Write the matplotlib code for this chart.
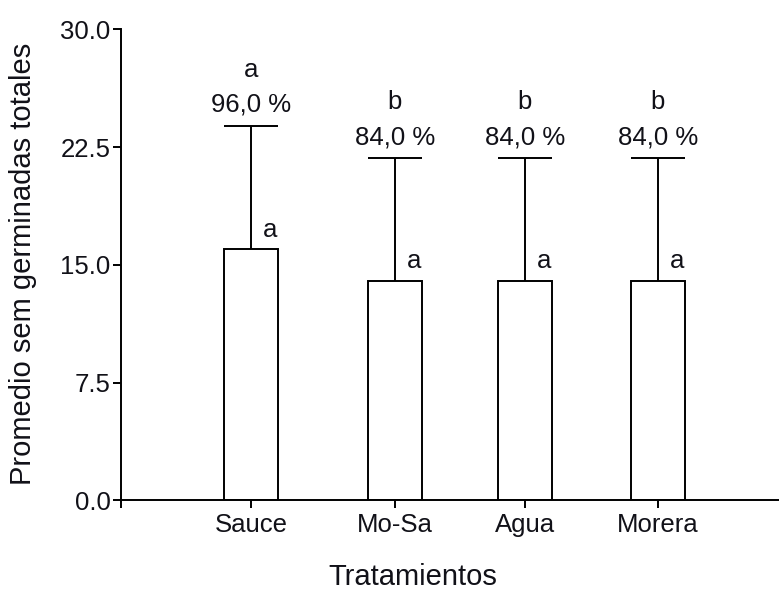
import matplotlib
matplotlib.use("Agg")
import matplotlib.pyplot as plt

plt.rcParams['font.family'] = ['Liberation Sans', 'DejaVu Sans']

# Treatment data
tratamientos = ["Sauce", "Mo-Sa", "Agua", "Morera"]
posiciones = [0.988, 2.08, 3.07, 4.08]
promedios = [16.0, 14.0, 14.0, 14.0]
desvios = [7.85, 7.8, 7.8, 7.8]
porcentajes = ["96,0 %", "84,0 %", "84,0 %", "84,0 %"]
letras_germ = ["a", "b", "b", "b"]
letras_prom = ["a", "a", "a", "a"]
yticks = [0.0, 7.5, 15.0, 22.5, 30.0]

txt = "#111118"
fig = plt.figure(figsize=(7.79, 5.91), dpi=100)
ax = fig.add_axes([121 / 779, 90.7 / 591, 1 - 121 / 779, (500.3 - 29.3) / 591])

lw = 1.4
ax.bar(posiciones, promedios, width=0.41, color="white", edgecolor="black",
       linewidth=lw, zorder=2)
_, caps, _ = ax.errorbar(posiciones, promedios, yerr=[[0] * 4, desvios],
                         fmt="none", ecolor="black", elinewidth=lw,
                         capsize=19.4, capthick=lw, zorder=1)
caps[0].set_visible(False)  # only the upper cap is drawn

fs = 18.5
for x, m, d, p, lg, lp in zip(posiciones, promedios, desvios, porcentajes,
                              letras_germ, letras_prom):
    top = m + d
    ax.annotate(p, (x, top), xytext=(0, 10), textcoords="offset points",
                ha="center", va="baseline", fontsize=fs, color=txt)
    ax.annotate(lg, (x, top), xytext=(0, 35), textcoords="offset points",
                ha="center", va="baseline", fontsize=fs, color=txt)
    ax.annotate(lp, (x, m), xytext=(13.7, 9), textcoords="offset points",
                ha="center", va="baseline", fontsize=fs, color=txt)

ax.set_xlim(0, 5)
ax.set_ylim(0, 30)
ax.set_yticks(yticks)
ax.set_yticklabels([f"{v:.1f}" for v in yticks], fontsize=fs, color=txt)
ax.set_xticks(posiciones)
ax.set_xticklabels(tratamientos, fontsize=fs, color=txt)
ax.set_xticks([0], minor=True)
ax.tick_params(axis="both", which="both", direction="out", length=6,
               width=lw, color="black")
ax.tick_params(axis="y", pad=1.5)
ax.tick_params(axis="x", which="both", pad=3)

for s in ["top", "right"]:
    ax.spines[s].set_visible(False)
for s in ["left", "bottom"]:
    ax.spines[s].set_linewidth(lw)

ax.set_xlabel("Tratamientos", fontsize=21, color=txt, va="center")
ax.xaxis.set_label_coords((413 - 121) / 658, (500.3 - 577) / 471)
ax.set_ylabel("Promedio sem germinadas totales", fontsize=21, color=txt,
              va="center", ha="center")
ax.yaxis.set_label_coords((23 - 121) / 658, (500.3 - 264) / 471)

fig.savefig("out.png", dpi=100)
